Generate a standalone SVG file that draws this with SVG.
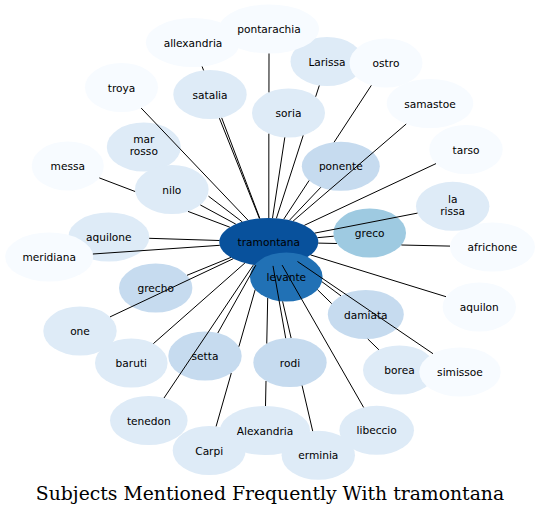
<svg xmlns="http://www.w3.org/2000/svg" width="540" height="516" viewBox="0 0 540 516">
<style>
.n text{font-family:"DejaVu Sans",sans-serif;font-size:10.6px;fill:#000;text-anchor:middle}
.c0{fill:#f7fbff}.c1{fill:#deebf7}.c2{fill:#c6dbef}.c3{fill:#9ecae1}.c4{fill:#2171b5}.c5{fill:#08519c}
#connectors line{stroke:#000;stroke-width:1;fill:none}
.title{font-family:"DejaVu Serif",serif;font-size:18.8px;text-anchor:middle;fill:#000}
</style>
<rect width="540" height="516" fill="#fff"/>
<g id="node-tramontana" class="n"><ellipse class="c5" cx="268.8" cy="242" rx="49.5" ry="24"/><text x="268.8" y="246">tramontana</text></g>
<g id="node-Alexandria" class="n"><ellipse class="c1" cx="265" cy="430.5" rx="45" ry="24.5"/><text x="265" y="434.5">Alexandria</text></g>
<g id="node-Carpi" class="n"><ellipse class="c1" cx="209.2" cy="450.5" rx="36.5" ry="24.5"/><text x="209.2" y="454.5">Carpi</text></g>
<g id="node-Larissa" class="n"><ellipse class="c1" cx="327" cy="61.5" rx="36.5" ry="24.5"/><text x="327" y="65.5">Larissa</text></g>
<g id="node-africhone" class="n"><ellipse class="c0" cx="492.5" cy="247" rx="42.5" ry="24.5"/><text x="492.5" y="251">africhone</text></g>
<g id="node-allexandria" class="n"><ellipse class="c0" cx="193" cy="42.5" rx="47" ry="24.5"/><text x="193" y="46.5">allexandria</text></g>
<g id="node-aquilon" class="n"><ellipse class="c0" cx="479.3" cy="307" rx="36.7" ry="24.5"/><text x="479.3" y="311">aquilon</text></g>
<g id="node-aquilone" class="n"><ellipse class="c1" cx="108.8" cy="237" rx="40.5" ry="24.5"/><text x="108.8" y="241">aquilone</text></g>
<g id="node-baruti" class="n"><ellipse class="c1" cx="131.3" cy="363" rx="36.3" ry="24.5"/><text x="131.3" y="367">baruti</text></g>
<g id="node-borea" class="n"><ellipse class="c1" cx="399.5" cy="370" rx="36.5" ry="24.5"/><text x="399.5" y="374">borea</text></g>
<g id="node-damiata" class="n"><ellipse class="c2" cx="365.8" cy="314.5" rx="38" ry="24.5"/><text x="365.8" y="318.5">damiata</text></g>
<g id="node-erminia" class="n"><ellipse class="c1" cx="318.3" cy="455.3" rx="36.7" ry="24.5"/><text x="318.3" y="459.3">erminia</text></g>
<g id="node-grecho" class="n"><ellipse class="c2" cx="155.7" cy="288" rx="36.7" ry="24.5"/><text x="155.7" y="292">grecho</text></g>
<g id="node-greco" class="n"><ellipse class="c3" cx="369.7" cy="233" rx="36.3" ry="24.5"/><text x="369.7" y="237">greco</text></g>
<g id="node-la-rissa" class="n"><ellipse class="c1" cx="452.7" cy="206.3" rx="36.7" ry="24.5"/><text x="452.7" y="202.5">la</text><text x="452.7" y="214.7">rissa</text></g>
<g id="node-levante" class="n"><ellipse class="c4" cx="286.3" cy="277" rx="36.3" ry="24.5"/><text x="286.3" y="281">levante</text></g>
<g id="node-libeccio" class="n"><ellipse class="c1" cx="376.7" cy="430.3" rx="37.3" ry="24.5"/><text x="376.7" y="434.3">libeccio</text></g>
<g id="node-mar-rosso" class="n"><ellipse class="c1" cx="143.8" cy="147" rx="37" ry="24.5"/><text x="143.8" y="143.2">mar</text><text x="143.8" y="155.4">rosso</text></g>
<g id="node-meridiana" class="n"><ellipse class="c0" cx="49.2" cy="257" rx="44" ry="24.5"/><text x="49.2" y="261">meridiana</text></g>
<g id="node-messa" class="n"><ellipse class="c0" cx="67.8" cy="166" rx="36" ry="24.5"/><text x="67.8" y="170">messa</text></g>
<g id="node-nilo" class="n"><ellipse class="c1" cx="171.8" cy="189.5" rx="36.8" ry="24.5"/><text x="171.8" y="193.5">nilo</text></g>
<g id="node-one" class="n"><ellipse class="c1" cx="80" cy="331" rx="36.7" ry="24.5"/><text x="80" y="335">one</text></g>
<g id="node-ostro" class="n"><ellipse class="c0" cx="386" cy="63" rx="36.5" ry="24.5"/><text x="386" y="67">ostro</text></g>
<g id="node-ponente" class="n"><ellipse class="c2" cx="340.8" cy="166.3" rx="39" ry="24.5"/><text x="340.8" y="170.3">ponente</text></g>
<g id="node-pontarachia" class="n"><ellipse class="c0" cx="269" cy="29" rx="50" ry="24.5"/><text x="269" y="33">pontarachia</text></g>
<g id="node-rodi" class="n"><ellipse class="c2" cx="290" cy="362.5" rx="36.7" ry="24.5"/><text x="290" y="366.5">rodi</text></g>
<g id="node-samastoe" class="n"><ellipse class="c0" cx="430" cy="103.5" rx="43.3" ry="24.5"/><text x="430" y="107.5">samastoe</text></g>
<g id="node-satalia" class="n"><ellipse class="c1" cx="210" cy="94.5" rx="36.7" ry="24.5"/><text x="210" y="98.5">satalia</text></g>
<g id="node-setta" class="n"><ellipse class="c2" cx="205" cy="356" rx="36.7" ry="24.5"/><text x="205" y="360">setta</text></g>
<g id="node-simissoe" class="n"><ellipse class="c0" cx="460" cy="372" rx="40.7" ry="24.5"/><text x="460" y="376">simissoe</text></g>
<g id="node-soria" class="n"><ellipse class="c1" cx="288.5" cy="113" rx="36.5" ry="24.5"/><text x="288.5" y="117">soria</text></g>
<g id="node-tarso" class="n"><ellipse class="c0" cx="466" cy="149.5" rx="36.7" ry="24.5"/><text x="466" y="153.5">tarso</text></g>
<g id="node-tenedon" class="n"><ellipse class="c1" cx="148.8" cy="420.5" rx="38.8" ry="24.5"/><text x="148.8" y="424.5">tenedon</text></g>
<g id="node-troya" class="n"><ellipse class="c0" cx="121.5" cy="87.5" rx="36.5" ry="24.5"/><text x="121.5" y="91.5">troya</text></g>
<g id="connectors">
<line x1="248.0" y1="220.2" x2="141.2" y2="108.1"/>
<line x1="202.1" y1="66.5" x2="203.6" y2="70.4"/>
<line x1="221.7" y1="117.9" x2="259.8" y2="218.4"/>
<line x1="269" y1="53.5" x2="268.95" y2="92.3"/>
<line x1="268.85" y1="133.7" x2="268.8" y2="218"/>
<line x1="219.4" y1="118.2" x2="259.4" y2="218.4"/>
<line x1="319.3" y1="85.5" x2="315.65" y2="96.7"/>
<line x1="303.2" y1="135.45" x2="276.4" y2="218.3"/>
<line x1="371.3" y1="85.4" x2="334.1" y2="142.2"/>
<line x1="309.1" y1="180.5" x2="283.8" y2="219.1"/>
<line x1="284.8" y1="137.4" x2="272.5" y2="218.1"/>
<line x1="406.2" y1="124.0" x2="293.1" y2="221.1"/>
<line x1="436.0" y1="163.6" x2="304.4" y2="225.3"/>
<line x1="320.8" y1="187.3" x2="289.5" y2="220.2"/>
<line x1="208.5" y1="196.2" x2="242.2" y2="221.8"/>
<line x1="99.3" y1="177.9" x2="135.1" y2="191.5"/>
<line x1="188.0" y1="211.4" x2="229.8" y2="227.2"/>
<line x1="200.4" y1="205.0" x2="235.8" y2="224.1"/>
<line x1="417.5" y1="213.1" x2="314.8" y2="233.1"/>
<line x1="149.2" y1="238.3" x2="219.4" y2="240.5"/>
<line x1="92.9" y1="254.0" x2="219.8" y2="245.3"/>
<line x1="333.7" y1="236.2" x2="317.5" y2="237.7"/>
<line x1="450" y1="246.1" x2="401.4" y2="245.0"/>
<line x1="336.9" y1="243.5" x2="318.2" y2="243.1"/>
<line x1="187.0" y1="275.3" x2="230.9" y2="257.4"/>
<line x1="446.0" y1="296.7" x2="310.5" y2="254.9"/>
<line x1="110.0" y1="316.9" x2="233.3" y2="258.7"/>
<line x1="341.0" y1="295.9" x2="321.9" y2="281.7"/>
<line x1="153.4" y1="343.6" x2="244.9" y2="263.0"/>
<line x1="217.8" y1="333.0" x2="255.8" y2="265.2"/>
<line x1="285.7" y1="338.2" x2="273.0" y2="265.9"/>
<line x1="378.9" y1="349.8" x2="367.8" y2="339.0"/>
<line x1="331.7" y1="303.6" x2="317.4" y2="289.6"/>
<line x1="433.0" y1="353.7" x2="297.5" y2="261.5"/>
<line x1="164.0" y1="398.0" x2="253.5" y2="264.8"/>
<line x1="363.6" y1="407.4" x2="282.1" y2="265.1"/>
<line x1="265.5" y1="406" x2="266.0" y2="381.0"/>
<line x1="266.75" y1="343.5" x2="267.7" y2="298"/>
<line x1="216.1" y1="426.4" x2="231.3" y2="373.1"/>
<line x1="238.9" y1="346.6" x2="255.2" y2="289.6"/>
<line x1="312.7" y1="431.1" x2="302.1" y2="385.6"/>
<line x1="291.1" y1="338.0" x2="282.6" y2="301.4"/>
</g>
<text class="title" x="270" y="499.5">Subjects Mentioned Frequently With tramontana</text>
</svg>
